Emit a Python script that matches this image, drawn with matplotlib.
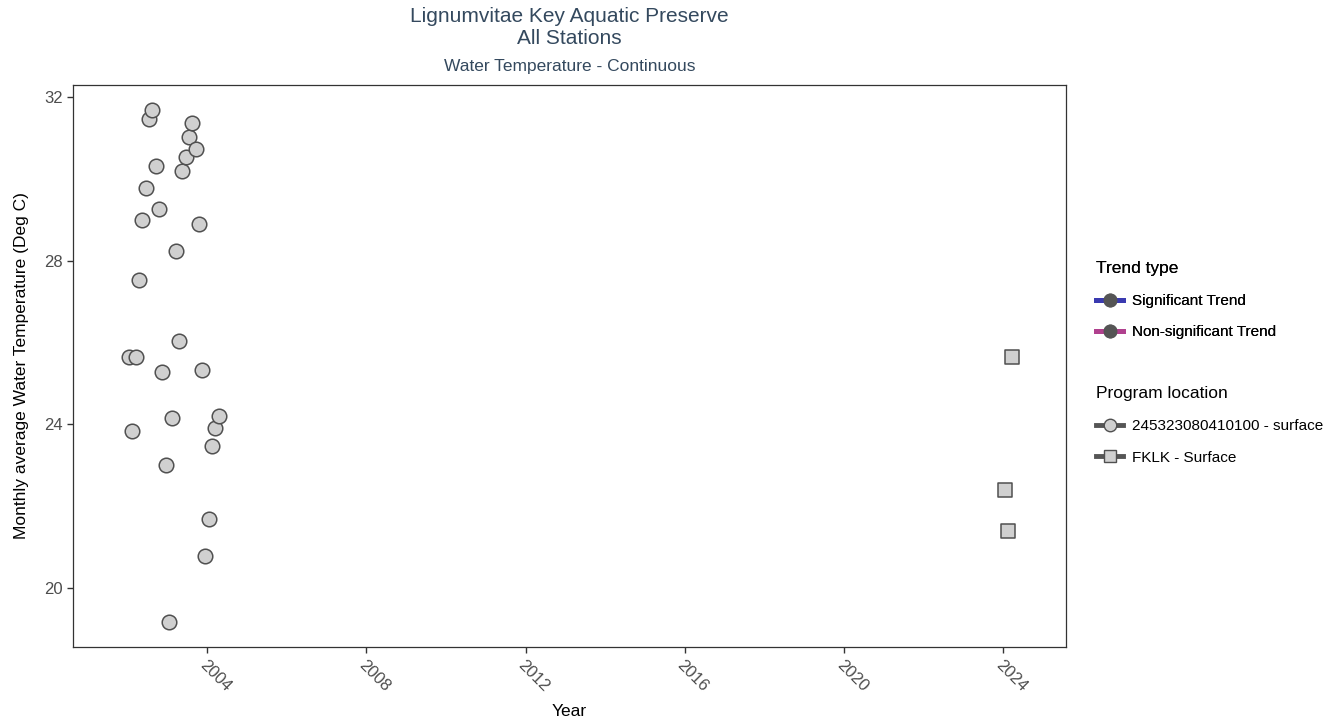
import numpy as np
import matplotlib
matplotlib.use("Agg")
from matplotlib import pyplot as plt
from matplotlib.lines import Line2D

plt.rcParams["font.family"] = ["Liberation Sans", "DejaVu Sans"]

# monthly averages, station 245323080410100 - surface (Jan 2002 .. Apr 2004)
station_months = [
    "2002-01", "2002-02", "2002-03", "2002-04", "2002-05", "2002-06",
    "2002-07", "2002-08", "2002-09", "2002-10", "2002-11", "2002-12",
    "2003-01", "2003-02", "2003-03", "2003-04", "2003-05", "2003-06",
    "2003-07", "2003-08", "2003-09", "2003-10", "2003-11", "2003-12",
    "2004-01", "2004-02", "2004-03", "2004-04",
]
station_temp = [
    25.65, 23.84, 25.65, 27.53, 28.99, 29.78, 31.46, 31.69, 30.31, 29.27,
    25.28, 23.01, 19.18, 24.16, 28.24, 26.04, 30.19, 30.53, 31.02, 31.37,
    30.72, 28.89, 25.33, 20.78, 21.69, 23.46, 23.92, 24.21,
]

# FKLK - Surface
fklk_months = ["2024-01", "2024-02", "2024-03"]
fklk_temp = [22.40, 21.40, 25.64]

year_ticks = [2004, 2008, 2012, 2016, 2020, 2024]
temp_ticks = [20, 24, 28, 32]


def to_year(months):
    out = []
    for m in months:
        y, mo = m.split("-")
        out.append(int(y) + (int(mo) - 1) / 12 + 0.04)
    return np.array(out)


def main():
    title_col = "#34495e"
    face = "#d0d0d0"
    edge = "#505050"

    W, H = 1340, 723
    fig = plt.figure(figsize=(W / 100, H / 100), dpi=100)
    ax = fig.add_axes([0.0545, 0.1051, 0.741, 0.7773])

    ax.scatter(to_year(station_months), station_temp, s=110, marker="o",
               facecolor=face, edgecolor=edge, linewidth=1.1, zorder=3)
    ax.scatter(to_year(fklk_months), fklk_temp, s=100, marker="s",
               facecolor=face, edgecolor=edge, linewidth=1.1, zorder=3)

    ax.set_xlim(2000.63, 2025.57)
    ax.set_ylim(18.56, 32.29)
    ax.set_xticks(year_ticks)
    ax.set_yticks(temp_ticks)
    ax.set_xticklabels([str(t) for t in year_ticks], rotation=-45,
                       ha="left", va="top", rotation_mode="anchor")
    ax.tick_params(axis="both", colors="#333333", labelcolor="#4d4d4d",
                   labelsize=12, length=4, width=1)
    for sp in ax.spines.values():
        sp.set_color("#333333")
        sp.set_linewidth(0.9)

    ax.set_ylabel("Monthly average Water Temperature (Deg C)", fontsize=12.5,
                  labelpad=11)
    fig.text(569.5 / W, 1 - 711 / H, "Year", ha="center", va="center",
             fontsize=12.5)

    fig.text(569.5 / W, 1 - 17 / H, "Lignumvitae Key Aquatic Preserve",
             ha="center", va="center", fontsize=15, color=title_col)
    fig.text(569.5 / W, 1 - 39 / H, "All Stations",
             ha="center", va="center", fontsize=15, color=title_col)
    fig.text(569.5 / W, 1 - 66 / H, "Water Temperature - Continuous",
             ha="center", va="center", fontsize=12.5, color=title_col)

    # legends
    trend_handles = [
        Line2D([], [], color="#3a3ab0", lw=3.5, marker="o", markersize=9,
               markerfacecolor="#555555", markeredgecolor="#555555"),
        Line2D([], [], color="#b0408e", lw=3.5, marker="o", markersize=9,
               markerfacecolor="#555555", markeredgecolor="#555555"),
    ]
    leg1 = fig.legend(trend_handles, ["Significant Trend", "Non-significant Trend"],
                      title="Trend type", loc="upper left",
                      bbox_to_anchor=(0.8135, 0.647), frameon=False,
                      fontsize=11, title_fontsize=12.5, handlelength=1.75,
                      handletextpad=0.6,
                      labelspacing=1.15, alignment="left", borderaxespad=0)

    prog_handles = [
        Line2D([], [], color="#555555", lw=3.5, marker="o", markersize=9,
               markerfacecolor=face, markeredgecolor=edge),
        Line2D([], [], color="#555555", lw=3.5, marker="s", markersize=8,
               markerfacecolor=face, markeredgecolor=edge),
    ]
    fig.legend(prog_handles, ["245323080410100 - surface", "FKLK - Surface"],
               title="Program location", loc="upper left",
               bbox_to_anchor=(0.8135, 0.474), frameon=False,
               fontsize=11, title_fontsize=12.5, handlelength=1.75,
               handletextpad=0.6,
               labelspacing=1.15, alignment="left", borderaxespad=0)
    fig.add_artist(leg1)

    fig.savefig("out.png", dpi=100)


if __name__ == "__main__":
    main()
